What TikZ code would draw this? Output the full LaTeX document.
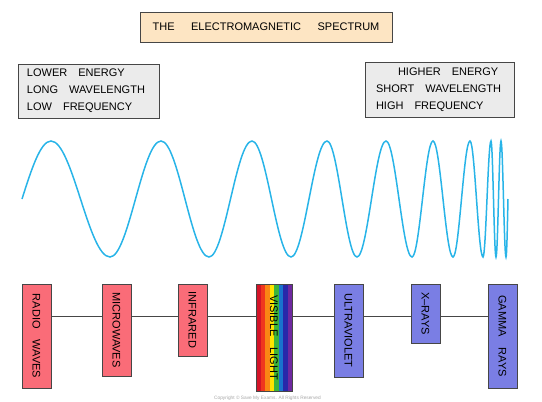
\documentclass[tikz,border=0pt]{standalone}
\usepackage{fontspec}
\setmainfont{Liberation Sans}
\usepackage{tikz}
\pgfdeclarelayer{bg}
\pgfsetlayers{bg,main}
\definecolor{wavecol}{RGB}{40,180,232}
\definecolor{boxline}{RGB}{70,70,70}
\definecolor{titlefill}{RGB}{253,229,195}
\definecolor{notefill}{RGB}{235,235,235}
\definecolor{lowfill}{RGB}{250,108,120}
\definecolor{highfill}{RGB}{122,126,228}
\newcommand{\gapp}{\hspace{1em}}

\begin{document}
\begin{tikzpicture}[x=1pt,y=-1pt,
    font=\fontsize{11}{17}\selectfont,
    band/.style={draw=boxline, line width=0.8pt, rotate=-90, minimum height=29pt, inner sep=0pt},
    low/.style={band, fill=lowfill},
    high/.style={band, fill=highfill}]
                        \useasboundingbox (0,0) rectangle (542,402);
                        \node[draw=boxline, line width=0.8pt, fill=titlefill, minimum width=252pt, minimum height=30pt] (title) at (266,27) {THE\hspace{1.5em}ELECTROMAGNETIC\hspace{1.5em}SPECTRUM};
                        \node[draw=boxline, line width=0.8pt, fill=notefill, minimum width=141pt, minimum height=54pt, text width=123pt, align=left] (lower) at (88.5,91) {LOWER\gapp ENERGY\\LONG\gapp WAVELENGTH\\LOW\gapp FREQUENCY};
                        \node[draw=boxline, line width=0.8pt, fill=notefill, minimum width=149pt, minimum height=55pt, text width=127pt, align=left] (higher) at (439.5,89.5) {\hspace*{22pt}HIGHER\gapp ENERGY\\SHORT\gapp WAVELENGTH\\HIGH\gapp FREQUENCY};
                        \draw[wavecol, line width=1.5pt] (22,199) \foreach \p/\z/\h in {51/80.5/141, 110/135.5/257, 161/185/141, 209/230.5/257, 252/271.5/141, 291/309/257, 327/342/141, 357/371.5/257, 386/399/141, 412/422.5/257, 433/443/141, 453/461.5/257, 470/476.5/141, 483/487/257, 491/493.5/141, 496/498.5/257, 501/503.5/141, 506/508/257} { sin (\p,\h) cos (\z,199) };
                        \foreach \c [count=\i from 0] in {{rgb,255:red,212;green,20;blue,40}, {rgb,255:red,240;green,55;blue,30}, {rgb,255:red,250;green,135;blue,20}, {rgb,255:red,255;green,228;blue,0}, {rgb,255:red,60;green,180;blue,60}, {rgb,255:red,25;green,115;blue,205}, {rgb,255:red,40;green,40;blue,170}, {rgb,255:red,110;green,40;blue,160}}
                            \fill[color=\c] ({256+4.5*\i},284) rectangle ++(4.5,107);
                        \node[low, minimum width=104pt] (radio) at (36.5,336) {RADIO\gapp WAVES};
                        \node[low, minimum width=92pt] (micro) at (116.5,330) {MICROWAVES};
                        \node[low, minimum width=72pt] (infra) at (192.5,320) {INFRARED};
                        \node[band, minimum width=107pt, minimum height=36pt] (visible) at (274,337.5) {VISIBLE\gapp LIGHT};
                        \node[high, minimum width=93pt] (uv) at (348.5,330.5) {ULTRAVIOLET};
                        \node[high, minimum width=59pt] (xray) at (425.5,313.5) {X--RAYS};
                        \node[high, minimum width=104pt] (gamma) at (502.5,336) {GAMMA\gapp RAYS};
                        \coordinate (spine) at (0,316);
                        \begin{pgfonlayer}{bg}
                            \draw[boxline, line width=0.9pt] (radio |- spine) -- (gamma |- spine);
                        \end{pgfonlayer}
                        \node[text=black!35, font=\fontsize{4.8}{5}\selectfont] (copy) at (267.5,398) {Copyright \textcopyright\ Save My Exams. All Rights Reserved};
                    \end{tikzpicture}
\end{document}
